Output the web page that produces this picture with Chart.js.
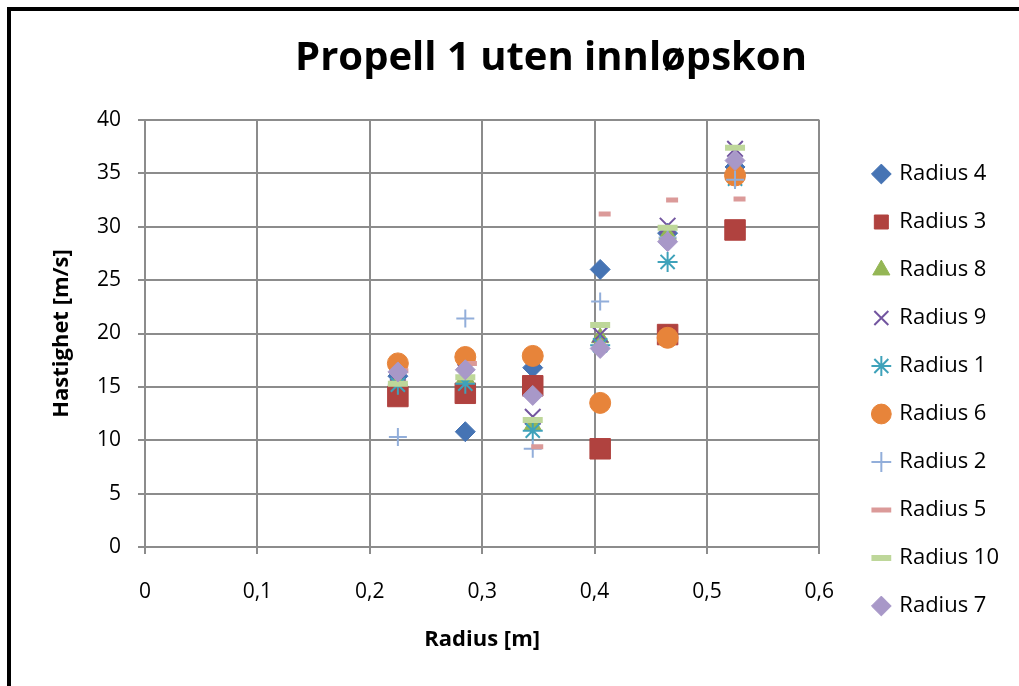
<!DOCTYPE html>
<html>
<head>
<meta charset="utf-8">
<title>Propell 1 uten innløpskon</title>
<script src="https://cdn.jsdelivr.net/npm/chart.js@4"></script>
<style>
  html, body { margin: 0; padding: 0; background: #fff; }
  #wrap { position: relative; width: 1019px; height: 686px; overflow: hidden; }
  #frame { position: absolute; left: 7px; top: 7px; width: 1100px; height: 720px;
           border-left: 4px solid #000; border-top: 4px solid #000; pointer-events: none; }
  canvas { position: absolute; left: 0; top: 0; }
</style>
</head>
<body>
<div id="wrap">
  <canvas id="chart" width="1019" height="686"></canvas>
  <div id="frame"></div>
</div>
<script>
// radius positions [m]
const xRadius  = [0.225, 0.285, 0.345, 0.405, 0.465, 0.525];
const xRadius5 = [0.229, 0.290, 0.349, 0.409, 0.469, 0.529];

// velocity [m/s] per series
const radius4  = [16.0, 10.8, 16.8, 26.0, 29.4, 35.6];
const radius3  = [14.1, 14.4, 15.1,  9.2, 19.9, 29.7];
const radius8  = [15.7, 15.9, 11.4, 19.6, 29.3, 35.6];
const radius9  = [16.3, 16.4, 12.2, 19.9, 30.1, 37.3];
const radius1  = [15.2, 15.3, 10.9, 18.9, 26.7, 34.5];
const radius6  = [17.2, 17.8, 17.9, 13.5, 19.6, 34.8];
const radius2  = [10.3, 21.4,  9.2, 23.0, 29.0, 34.4];
const radius5  = [16.5, 17.2,  9.4, 31.2, 32.5, 32.6];
const radius10 = [15.3, 15.9, 11.9, 20.8, 29.9, 37.4];
const radius7  = [16.4, 16.6, 14.2, 18.6, 28.6, 36.2];

const xTickLabels = ['0', '0,1', '0,2', '0,3', '0,4', '0,5', '0,6'];
const yTickLabels = ['0', '5', '10', '15', '20', '25', '30', '35', '40'];

function pts(xs, ys) {
  return xs.map((x, i) => ({ x: x, y: ys[i] }));
}

function series(label, xs, ys, style, color, r, bw) {
  return {
    label: label,
    data: pts(xs, ys),
    pointStyle: style,
    pointRadius: r,
    pointHoverRadius: r,
    backgroundColor: color,
    borderColor: color,
    pointBorderWidth: bw,
    borderWidth: bw,
    showLine: false
  };
}

// Excel draws the last series on top; chart.js draws index 0 on top -> reversed list
const datasets = [
  series('Radius 4',  xRadius,  radius4,  'rectRot',  '#4674B4', 10, 1),
  series('Radius 3',  xRadius,  radius3,  'rect',     '#B0423F', 14.5, 1),
  series('Radius 8',  xRadius,  radius8,  'triangle', '#94B655', 10, 1),
  series('Radius 9',  xRadius,  radius9,  'crossRot', '#7356A0', 11, 2),
  series('Radius 1',  xRadius,  radius1,  'star',     '#3FA2BA', 10, 2),
  series('Radius 6',  xRadius,  radius6,  'circle',   '#E7843A', 10.5, 1),
  series('Radius 2',  xRadius,  radius2,  'cross',    '#92AEDA', 9, 2),
  series('Radius 5',  xRadius5, radius5,  'line',     '#DB9A99', 6, 5),
  series('Radius 10', xRadius,  radius10, 'line',     '#BED79A', 10, 6),
  series('Radius 7',  xRadius,  radius7,  'rectRot',  '#A898C8', 10, 1)
].reverse();

// title sits centred on the (wider, cropped) excel frame, not on the canvas
const titlePlugin = {
  id: 'excelTitle',
  afterDraw(chart) {
    const ctx = chart.ctx;
    ctx.save();
    ctx.font = 'bold 40px "Open Sans"';
    ctx.fillStyle = '#000';
    ctx.textAlign = 'center';
    ctx.textBaseline = 'middle';
    ctx.fillText('Propell 1 uten innløpskon', 551, 59);
    ctx.restore();
  }
};

// nudge the legend to where excel put it
const legendShift = {
  id: 'legendShift',
  afterLayout(chart) {
    const l = chart.legend;
    l.left += 29; l.right += 29;
    l.top -= 13; l.bottom -= 13;
  }
};

const gridColor = '#8C8C8C';

new Chart(document.getElementById('chart'), {
  type: 'scatter',
  data: { datasets: datasets },
  plugins: [titlePlugin, legendShift],
  options: {
    responsive: false,
    animation: false,
    events: [],
    layout: { padding: { top: 120, left: 30, right: 39, bottom: 0 } },
    plugins: {
      tooltip: { enabled: false },
      title: { display: false },
      legend: {
        position: 'right',
        reverse: true,
        labels: {
          usePointStyle: true,
          boxWidth: 14,
          boxHeight: 14,
          padding: 26,
          color: '#000',
          font: { family: '"Open Sans"', size: 22 }
        }
      }
    },
    scales: {
      x: {
        type: 'linear',
        min: 0,
        max: 0.6,
        afterFit(scale) { scale.height = 139; },
        ticks: {
          stepSize: 0.1,
          color: '#000',
          padding: 25,
          font: { family: '"Open Sans"', size: 21 },
          callback: (v, i) => xTickLabels[i]
        },
        grid: { color: gridColor, lineWidth: 2, tickLength: 7 },
        border: { color: gridColor, width: 2 },
        title: {
          display: true,
          text: 'Radius [m]',
          color: '#000',
          font: { family: '"Open Sans"', size: 22, weight: 'bold' },
          padding: { top: 0, bottom: 33 }
        }
      },
      y: {
        min: 0,
        max: 40,
        afterFit(scale) { scale.width = 115; },
        ticks: {
          stepSize: 5,
          color: '#000',
          padding: 17,
          font: { family: '"Open Sans"', size: 21 },
          callback: (v, i) => yTickLabels[i]
        },
        grid: { color: gridColor, lineWidth: 2, tickLength: 7 },
        border: { color: gridColor, width: 2 },
        title: {
          display: true,
          text: 'Hastighet [m/s]',
          color: '#000',
          font: { family: '"Open Sans"', size: 22, weight: 'bold' },
          padding: { top: 19, bottom: 0 }
        }
      }
    }
  }
});
</script>
</body>
</html>
